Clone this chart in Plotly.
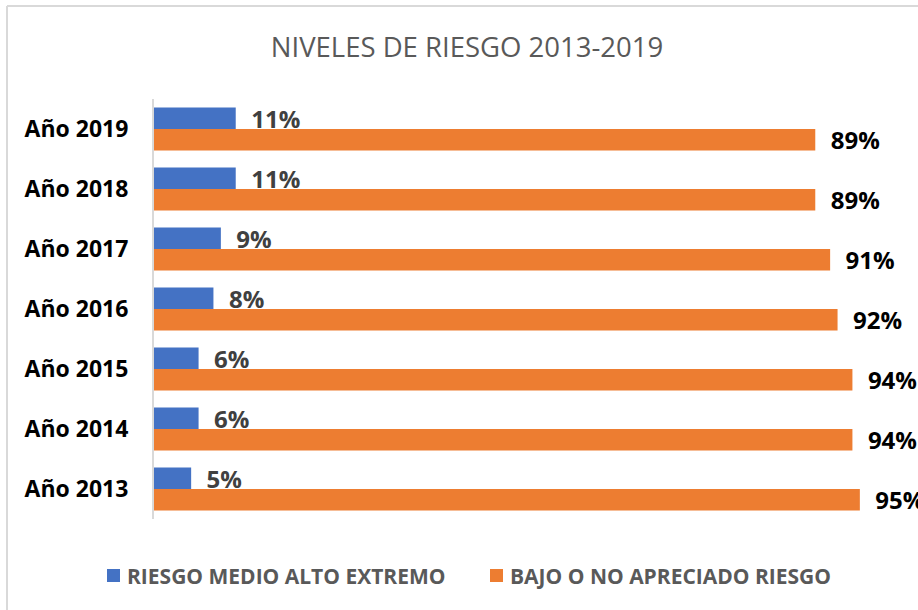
import plotly.graph_objects as go

years = ["Año 2019", "Año 2018", "Año 2017", "Año 2016", "Año 2015", "Año 2014", "Año 2013"]
riesgo_medio_alto = [11, 11, 9, 8, 6, 6, 5]
bajo_no_apreciado = [89, 89, 91, 92, 94, 94, 95]
series_names = ["RIESGO MEDIO ALTO EXTREMO", "BAJO O NO APRECIADO RIESGO"]
title_text = "NIVELES DE RIESGO 2013-2019"

BLUE = "#4472C4"
ORANGE = "#ED7D31"
FONT = "Open Sans"
PAD = "\u00a0\u00a0"

fig = go.Figure()
fig.add_trace(go.Bar(
    y=years, x=riesgo_medio_alto, orientation="h", name=series_names[0],
    marker=dict(color=BLUE, line=dict(width=0)),
    text=[f"{PAD}{v}%" for v in riesgo_medio_alto], textposition="outside",
    constraintext="none",
    textfont=dict(family=FONT, size=24, color="#404040", weight="bold"),
    cliponaxis=False, hoverinfo="x+y", showlegend=False,
))
fig.add_trace(go.Bar(
    y=years, x=bajo_no_apreciado, orientation="h", name=series_names[1],
    marker=dict(color=ORANGE, line=dict(width=0)),
    text=[f"{PAD}{v}%" for v in bajo_no_apreciado], textposition="outside",
    constraintext="none",
    textfont=dict(family=FONT, size=24, color="#000000", weight="bold"),
    cliponaxis=False, hoverinfo="x+y", showlegend=False,
))

# plot area spans x 154..918 px and y 99..519 px
L, R, T, B = 154, 0, 99, 91
W, H = 918, 610
pw, ph = W - L - R, H - T - B


def px_x(x):
    return (x - L) / pw


def px_y(y):
    return (H - B - y) / ph


shapes = [
    # outer chart frame (left and top edges)
    dict(type="line", xref="paper", yref="paper",
         x0=px_x(7), x1=px_x(7), y0=px_y(H + 10), y1=px_y(6),
         line=dict(color="#d9d9d9", width=2)),
    dict(type="line", xref="paper", yref="paper",
         x0=px_x(7), x1=px_x(W + 10), y0=px_y(6), y1=px_y(6),
         line=dict(color="#d9d9d9", width=2)),
]
annotations = []

# legend drawn as colour squares with bold labels below the plot
legend_items = [(series_names[0], BLUE, 107), (series_names[1], ORANGE, 490)]
for name, color, x0 in legend_items:
    shapes.append(dict(type="rect", xref="paper", yref="paper",
                       x0=px_x(x0), x1=px_x(x0 + 13), y0=px_y(582), y1=px_y(569),
                       fillcolor=color, line=dict(width=0)))
    annotations.append(dict(text=name, xref="paper", yref="paper",
                            x=px_x(x0 + 18), y=px_y(575.5), xanchor="left", yanchor="middle",
                            showarrow=False,
                            font=dict(family=FONT, size=21, color="#595959", weight="bold")))

fig.update_layout(
    width=W, height=H,
    margin=dict(l=L, r=R, t=T, b=B),
    paper_bgcolor="white", plot_bgcolor="white",
    barmode="group", bargap=0.28, bargroupgap=0,
    showlegend=False,
    title=dict(text=title_text, x=467 / W, xanchor="center", y=1 - 47 / H, yanchor="middle",
               yref="container", xref="container",
               font=dict(family=FONT, size=27.5, color="#595959")),
    xaxis=dict(range=[0, pw / 7.43], visible=False, fixedrange=True),
    yaxis=dict(autorange="reversed", showline=True, linecolor="#d9d9d9", linewidth=2,
               ticks="", ticklabelstandoff=19, showgrid=False,
               tickfont=dict(family=FONT, size=23, color="#000000", weight="bold")),
    shapes=shapes,
    annotations=annotations,
)

fig.write_html("out.html")
